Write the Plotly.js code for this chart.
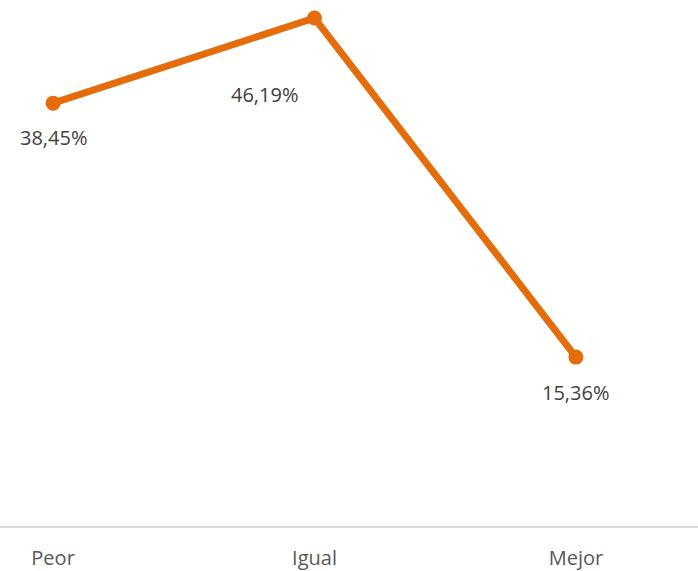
<!DOCTYPE html>
<html>
<head>
<meta charset="utf-8">
<script src="https://cdn.plot.ly/plotly-3.0.1.min.js"></script>
<style>html,body{margin:0;padding:0;background:#fff;}#chart{width:698px;height:571px;}</style>
</head>
<body>
<div id="chart"></div>
<script>
const categories = ["Peor", "Igual", "Mejor"];
const values = [38.45, 46.19, 15.36];
const labels = ["38,45%", "46,19%", "15,36%"];

const labelShifts = [[0, -34], [-50, -76], [0, -35]];

const trace = {
  x: categories,
  y: values,
  type: "scatter",
  mode: "lines+markers",
  line: {color: "#E46C0A", width: 7},
  marker: {color: "#E46C0A", size: 15},
  cliponaxis: false,
  hoverinfo: "none"
};

const annotations = categories.map((c, i) => ({
  x: c, y: values[i], xref: "x", yref: "y",
  text: labels[i], showarrow: false,
  xshift: labelShifts[i][0], yshift: labelShifts[i][1],
  font: {family: "Open Sans", size: 20, color: "#404040"}
}));

const layout = {
  width: 698, height: 571,
  margin: {l: 0, r: 0, t: 0, b: 45},
  paper_bgcolor: "#fff", plot_bgcolor: "#fff",
  showlegend: false,
  xaxis: {
    type: "category",
    range: [-0.203, 2.467],
    showgrid: false, zeroline: false,
    showline: true, linecolor: "#D9D9D9", linewidth: 2,
    ticks: "", ticklabelstandoff: 13,
    tickfont: {family: "Open Sans", size: 20, color: "#595959"}
  },
  yaxis: {
    range: [0, 47.83],
    showgrid: false, zeroline: false, showline: false,
    showticklabels: false, ticks: ""
  },
  annotations: annotations
};

Plotly.newPlot("chart", [trace], layout, {displayModeBar: false, staticPlot: true});
</script>
</body>
</html>
